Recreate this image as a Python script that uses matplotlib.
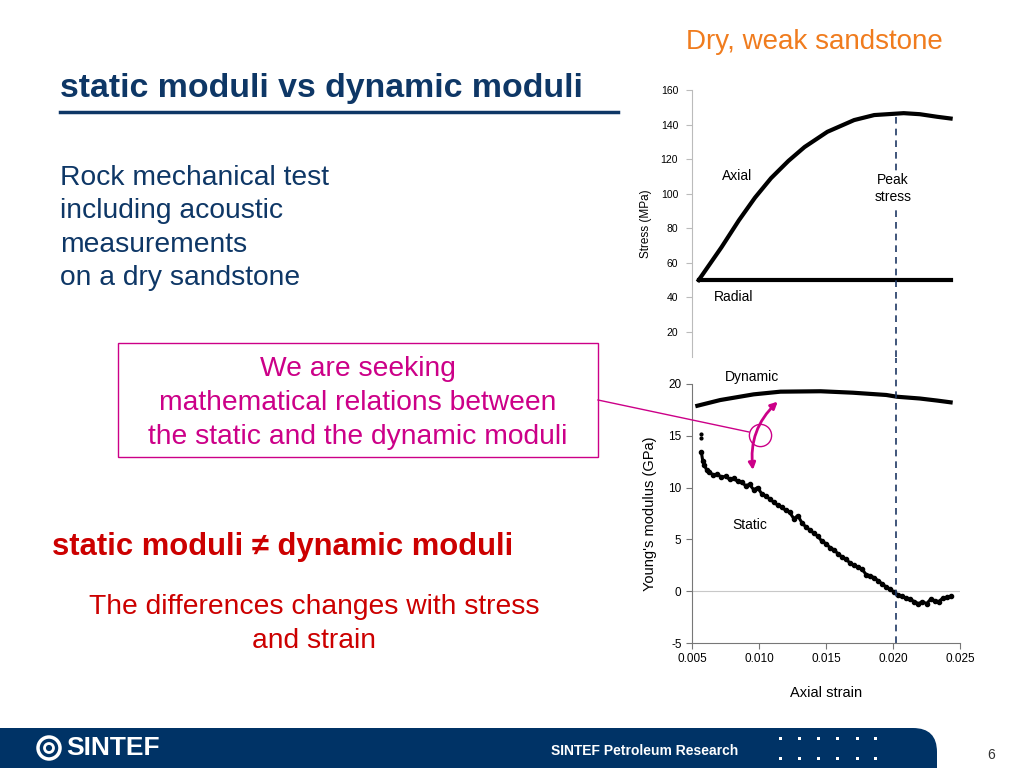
"""
Static vs dynamic moduli slide: stress-strain and Young's modulus vs axial strain.
"""

import matplotlib.pyplot as plt
from matplotlib.lines import Line2D
from matplotlib.patches import Rectangle, FancyBboxPatch, Circle

plt.rcParams['font.family'] = ['Liberation Sans', 'DejaVu Sans']
plt.rcParams['axes.unicode_minus'] = False

# Stress-strain data (upper chart)
axial_strain = [0.0055, 0.0072, 0.0085, 0.0097, 0.0109, 0.0122, 0.0134, 0.0151,
                0.0171, 0.0186, 0.0208, 0.0220, 0.0233, 0.0243]
axial_stress = [50, 69, 84.6, 97.7, 109, 119, 127, 135.8,
                142.6, 145.5, 146.6, 146, 144.5, 143.5]
radial_strain = [0.0055, 0.0243]
radial_stress = [50, 50]

# Young's modulus data (lower chart)
dyn_strain = [0.0054, 0.0071, 0.0096, 0.0116, 0.0146, 0.0170, 0.0195, 0.0203,
              0.0220, 0.0233, 0.0243]
dyn_modulus = [17.9, 18.45, 19.0, 19.26, 19.3, 19.16, 18.94, 18.77,
               18.6, 18.4, 18.23]

static_strain = [0.0057, 0.0057, 0.0057, 0.0058, 0.0059, 0.0061, 0.0063, 0.0066,
                 0.0069, 0.0072, 0.0075, 0.0078, 0.0081, 0.0084, 0.0087, 0.0090,
                 0.0093, 0.0096, 0.0099, 0.0102, 0.0105, 0.0108, 0.0111, 0.0114,
                 0.0117, 0.0120, 0.0123, 0.0126, 0.0129, 0.0132, 0.0135, 0.0138,
                 0.0141, 0.0144, 0.0147, 0.0150, 0.0153, 0.0156, 0.0159, 0.0162,
                 0.0165, 0.0168, 0.0171, 0.0174, 0.0177, 0.0180, 0.0183, 0.0186,
                 0.0189, 0.0192, 0.0195, 0.0198, 0.0201, 0.0204, 0.0207, 0.0210,
                 0.0213, 0.0216, 0.0219, 0.0222, 0.0225, 0.0228, 0.0231, 0.0234,
                 0.0237, 0.0240, 0.0243]
static_modulus = [15.2, 14.8, 13.4, 12.6, 12.2, 11.7, 11.5, 11.2,
                  11.3, 11.0, 11.1, 10.8, 10.9, 10.6, 10.5, 10.2,
                  10.3, 9.8, 10.0, 9.4, 9.2, 8.9, 8.6, 8.3,
                  8.1, 7.8, 7.6, 7.0, 7.3, 6.6, 6.2, 5.9,
                  5.6, 5.3, 4.8, 4.6, 4.2, 4.0, 3.6, 3.3,
                  3.1, 2.7, 2.5, 2.3, 2.1, 1.6, 1.5, 1.3,
                  1.0, 0.7, 0.4, 0.2, -0.1, -0.4, -0.5, -0.7,
                  -0.8, -1.0, -1.2, -1.0, -1.2, -0.8, -0.9, -1.0,
                  -0.7, -0.6, -0.5]

peak_strain = 0.0202
peak_stress = 146

stress_ticks = [20, 40, 60, 80, 100, 120, 140, 160]
modulus_ticks = [-5, 0, 5, 10, 15, 20]
strain_ticks = [0.005, 0.010, 0.015, 0.020, 0.025]

NAVY = '#0e3766'
MAGENTA = '#cc0088'
RED = '#cc0000'
ORANGE = '#f07c1e'
DASH = '#1f3864'
FOOT = '#003366'

fig = plt.figure(figsize=(10.24, 7.68), dpi=100)
W, H = 1024, 768


def fx(px):
    return px / W


def fy(py):
    return 1 - py / H


# ---- slide text ----
fig.text(fx(60), fy(88), 'static moduli vs dynamic moduli', color=NAVY,
         fontsize=24.4, fontweight='bold', va='center', ha='left')
fig.add_artist(Line2D([fx(60), fx(618)], [fy(112), fy(112)], color=NAVY, lw=2.5))
fig.text(fx(943), fy(42), 'Dry, weak sandstone', color=ORANGE, fontsize=20,
         ha='right', va='center')
fig.text(fx(60), fy(228), 'Rock mechanical test\nincluding acoustic\nmeasurements\non a dry sandstone',
         color=NAVY, fontsize=20.3, ha='left', va='center', linespacing=1.37)

fig.add_artist(Rectangle((fx(118), fy(457)), fx(480), 114 / H, fill=False,
                         edgecolor=MAGENTA, lw=1))
fig.text(fx(358), fy(403), 'We are seeking\nmathematical relations between\nthe static and the dynamic moduli',
         color=MAGENTA, fontsize=20.3, ha='center', va='center', linespacing=1.38)

fig.text(fx(52), fy(547), 'static moduli \u2260 dynamic moduli', color=RED,
         fontsize=22.3, fontweight='bold', ha='left', va='center')
fig.text(fx(314), fy(624), 'The differences changes with stress\nand strain', color=RED,
         fontsize=20.3, ha='center', va='center', linespacing=1.36)

# ---- upper chart: stress vs strain ----
ax1 = fig.add_axes([fx(692), fy(357), fx(268), 267 / H])
ax1.plot(axial_strain, axial_stress, color='black', lw=3)
ax1.plot(radial_strain, radial_stress, color='black', lw=3)
ax1.vlines(peak_strain, 5.5, peak_stress, colors=DASH, linestyles=(0, (4, 3)), lw=1.2)
ax1.set_xlim(0.005, 0.025)
ax1.set_ylim(5.5, 160)
ax1.set_yticks(stress_ticks)
ax1.set_xticks([])
for s in ['top', 'right', 'bottom']:
    ax1.spines[s].set_visible(False)
ax1.spines['left'].set_color('#bbbbbb')
ax1.tick_params(axis='y', labelsize=7.5, color='#bbbbbb', length=4, pad=6)
ax1.set_ylabel('Stress (MPa)', fontsize=8.5, labelpad=6)
ax1.text(0.0084, 110, 'Axial', fontsize=10, ha='center', va='center')
ax1.text(0.0200, 103, 'Peak\nstress', fontsize=10, ha='center', va='center',
         linespacing=1.3, bbox=dict(facecolor='white', edgecolor='none', pad=1))
ax1.text(0.0081, 40, 'Radial', fontsize=10, ha='center', va='center')
ax1.patch.set_alpha(0)

# ---- lower chart: Young's modulus vs strain ----
ax2 = fig.add_axes([fx(692), fy(643), fx(268), 259 / H])
ax2.axhline(0, color='#c8c8c8', lw=0.8)
ax2.plot(dyn_strain, dyn_modulus, color='black', lw=3)
ax2.plot(static_strain[:3], static_modulus[:3], 'o', color='black', ms=2)
ax2.plot(static_strain[2:], static_modulus[2:], '-o', color='black', ms=3, lw=2.2)
ax2.vlines(peak_strain, -5, 22.5, colors=DASH, linestyles=(0, (4, 3)), lw=1.2,
           clip_on=False)
ax2.set_xlim(0.005, 0.025)
ax2.set_ylim(-5, 20)
ax2.set_yticks(modulus_ticks)
ax2.set_xticks(strain_ticks)
ax2.set_xticklabels(['%.3f' % t for t in strain_ticks])
for s in ['top', 'right']:
    ax2.spines[s].set_visible(False)
ax2.spines['left'].set_color('#777777')
ax2.spines['bottom'].set_color('#777777')
ax2.tick_params(labelsize=8.5, color='#777777', length=4)
ax2.set_ylabel("Young's modulus (GPa)", fontsize=10.5, labelpad=8)
ax2.set_xlabel('Axial strain', fontsize=10.5, labelpad=15)
ax2.text(0.0095, 20.7, 'Dynamic', fontsize=10, ha='center', va='center')
ax2.text(0.0093, 6.4, 'Static', fontsize=10, ha='center', va='center')
ax2.plot([0.0101], [15.1], 'o', ms=16, mfc='none', mec=MAGENTA, mew=1)
ax2.annotate('', xy=(0.0114, 18.3), xytext=(0.00955, 11.7),
             arrowprops=dict(arrowstyle='<|-|>', connectionstyle='arc3,rad=-0.25',
                             color=MAGENTA, lw=2, mutation_scale=10,
                             shrinkA=0, shrinkB=0))
ax2.patch.set_alpha(0)

# connector from text box to circle
fig.add_artist(Line2D([fx(598), fx(749)], [fy(400), fy(432)], color=MAGENTA, lw=1))

# ---- footer (inches, so the corner rounding stays circular) ----
inch = fig.dpi_scale_trans
fig.add_artist(FancyBboxPatch((-0.5, -0.5), 9.87, 0.90,
                              boxstyle='round,pad=0,rounding_size=0.24',
                              transform=inch, facecolor=FOOT, edgecolor='none'))
fig.add_artist(Circle((0.49, 0.20), 0.11, transform=inch,
                      fill=False, edgecolor='white', lw=2.5))
fig.add_artist(Circle((0.49, 0.20), 0.045, transform=inch,
                      fill=False, edgecolor='white', lw=2))
fig.text(fx(66), fy(748), 'SINTEF', color='white', fontsize=19, fontweight='bold',
         ha='left', va='center')
fig.text(fx(738), fy(751), 'SINTEF Petroleum Research', color='white', fontsize=10,
         fontweight='bold', ha='right', va='center')
for row in [738, 758]:
    for col in [780, 799, 818, 837, 857, 875]:
        fig.add_artist(Rectangle((fx(col - 1.5), fy(row + 1.5)), fx(3), 3 / H,
                                 facecolor='white', edgecolor='none',
                                 transform=fig.transFigure))
fig.text(fx(991), fy(755), '6', color='#333333', fontsize=10, ha='center', va='center')

fig.savefig('out.png', dpi=100)
